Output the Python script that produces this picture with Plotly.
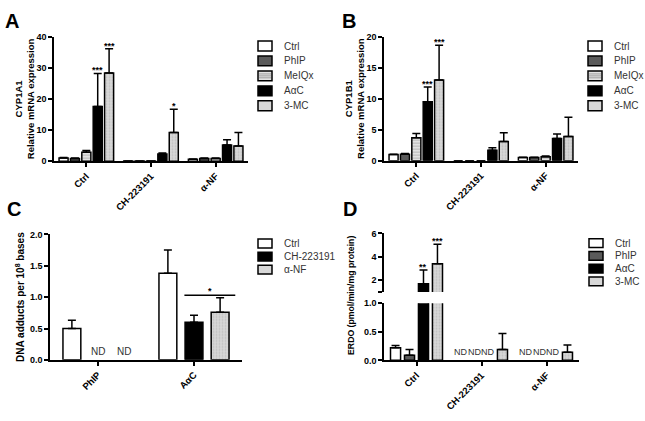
import plotly.graph_objects as go

W, H = 645, 421
FONT = "Liberation Sans, Arial, sans-serif"

# panels A and B: relative mRNA expression (rows = treatment, cols = inhibitor group)
cell_groups = ["Ctrl", "CH-223191", "α-NF"]
mrna_series = ["Ctrl", "PhIP", "MeIQx", "AαC", "3-MC"]

cyp1a1_mean = [[1.0, 0.1, 0.6], [0.9, 0.1, 0.9], [2.9, 0.1, 0.9], [17.6, 2.3, 5.2], [28.3, 9.2, 4.9]]
cyp1a1_err = [[0.2, 0.0, 0.1], [0.1, 0.0, 0.1], [0.5, 0.0, 0.1], [10.6, 0.3, 1.7], [7.8, 7.5, 4.3]]
cyp1a1_sig = [["", "", ""], ["", "", ""], ["", "", ""], ["***", "", ""], ["***", "*", ""]]

cyp1b1_mean = [[1.0, 0.0, 0.5], [1.05, 0.0, 0.5], [3.7, 0.0, 0.65], [9.5, 1.7, 3.6], [13.0, 3.1, 3.9]]
cyp1b1_err = [[0.05, 0.0, 0.05], [0.1, 0.0, 0.05], [0.7, 0.0, 0.1], [2.4, 0.4, 0.7], [5.6, 1.4, 3.1]]
cyp1b1_sig = [["", "", ""], ["", "", ""], ["", "", ""], ["***", "", ""], ["***", "", ""]]

# panel C: DNA adducts (None = not detected)
adduct_groups = ["PhIP", "AαC"]
adduct_series = ["Ctrl", "CH-223191", "α-NF"]
adduct_mean = [[0.5, 1.38], [None, 0.6], [None, 0.76]]
adduct_err = [[0.13, 0.37], [0.0, 0.11], [0.0, 0.23]]

# panel D: ERDO activity (None = not detected)
erdo_series = ["Ctrl", "PhIP", "AαC", "3-MC"]
erdo_mean = [[0.22, None, None], [0.09, None, None], [1.7, None, None], [3.42, 0.19, 0.14]]
erdo_err = [[0.04, 0.0, 0.0], [0.1, 0.0, 0.0], [1.17, 0.0, 0.0], [1.66, 0.28, 0.13]]
erdo_sig = [["", "", ""], ["", "", ""], ["**", "", ""], ["***", "", ""]]

LIGHT = "#d8d8d8"
STYLE = {
    "Ctrl": dict(color="white"),
    "PhIP": dict(color="#5a5a5a"),
    "MeIQx": dict(color="#e2e2e2", pattern=dict(shape="-", fgcolor="#8c8c8c", bgcolor="#e2e2e2", size=3, solidity=0.35)),
    "AαC": dict(color="black"),
    "3-MC": dict(color=LIGHT, pattern=dict(shape=".", fgcolor="#a8a8a8", bgcolor=LIGHT, size=3, solidity=0.3)),
    "CH-223191": dict(color="black"),
    "α-NF": dict(color=LIGHT, pattern=dict(shape=".", fgcolor="#a8a8a8", bgcolor=LIGHT, size=3, solidity=0.3)),
}

fig = go.Figure()


def offsets(n, slot):
    return [(i - (n - 1) / 2) * slot for i in range(n)]


def add_bars(xa, ya, series, mean, err, slot, bw):
    offs = offsets(len(series), slot)
    for i, name in enumerate(series):
        st = STYLE[name]
        marker = dict(color=st["color"], line=dict(color="black", width=1.5))
        if "pattern" in st:
            marker["pattern"] = st["pattern"]
        fig.add_trace(go.Bar(
            x=list(range(len(mean[i]))), y=mean[i], xaxis=xa, yaxis=ya,
            offset=offs[i] - bw / 2, width=bw, marker=marker, name=name,
            error_y=dict(type="data", array=err[i], arrayminus=[0] * len(err[i]),
                         symmetric=False, color="black", thickness=1.5, width=4),
            showlegend=False))
    return offs


def add_stars(xa, ya, offs, mean, err, sig, ya_hi=None, cut=None):
    for i, row in enumerate(sig):
        for j, s in enumerate(row):
            if not s:
                continue
            top = mean[i][j] + err[i][j]
            yref = ya_hi if (cut is not None and top > cut) else ya
            fig.add_annotation(x=j + offs[i], y=top, xref=xa, yref=yref, text="<b>%s</b>" % s,
                               showarrow=False, xanchor="center", yanchor="bottom", yshift=-4,
                               font=dict(size=9, color="black"))


def add_nd(xa, ya, offs, mean, size):
    for i, row in enumerate(mean):
        for j, v in enumerate(row):
            if v is None:
                fig.add_annotation(x=j + offs[i], y=0, xref=xa, yref=ya, text="ND",
                                   showarrow=False, xanchor="center", yanchor="bottom", yshift=1,
                                   font=dict(size=size, color="#333"))


def add_legend(x0, yc0, step, names, bh=10):
    for k, name in enumerate(names):
        yc = yc0 + k * step
        st = STYLE[name]
        fig.add_shape(type="rect", xref="paper", yref="paper",
                      x0=x0 / W, x1=(x0 + 14) / W, y0=1 - (yc + bh / 2) / H, y1=1 - (yc - bh / 2) / H,
                      fillcolor=st["color"], line=dict(color="black", width=1.5))
        if name == "MeIQx":
            for dy in (-2, 0, 2):
                fig.add_shape(type="line", xref="paper", yref="paper",
                              x0=(x0 + 1) / W, x1=(x0 + 13) / W, y0=1 - (yc + dy) / H, y1=1 - (yc + dy) / H,
                              line=dict(color="#8c8c8c", width=0.8))
        fig.add_annotation(x=(x0 + 24) / W, y=1 - yc / H, xref="paper", yref="paper", text=name,
                           showarrow=False, xanchor="left", yanchor="middle",
                           font=dict(size=10, color="#333"))


# A
offs = add_bars("x", "y", mrna_series, cyp1a1_mean, cyp1a1_err, 0.176, 0.14)
add_stars("x", "y", offs, cyp1a1_mean, cyp1a1_err, cyp1a1_sig)
# B
offs = add_bars("x2", "y2", mrna_series, cyp1b1_mean, cyp1b1_err, 0.176, 0.14)
add_stars("x2", "y2", offs, cyp1b1_mean, cyp1b1_err, cyp1b1_sig)
# C
offs = add_bars("x3", "y3", adduct_series, adduct_mean, adduct_err, 0.272, 0.186)
add_nd("x3", "y3", offs, adduct_mean, 10)
fig.add_shape(type="line", xref="x3", yref="y3", x0=0.9, x1=1.43, y0=1.03, y1=1.03,
              line=dict(color="black", width=1.5))
fig.add_annotation(x=1.165, y=1.03, xref="x3", yref="y3", text="<b>*</b>", showarrow=False,
                   xanchor="center", yanchor="bottom", yshift=-3, font=dict(size=9, color="black"))
# D (broken axis: lower y4, upper y5)
offs = add_bars("x4", "y4", erdo_series, erdo_mean, erdo_err, 0.215, 0.155)
add_bars("x4", "y5", erdo_series, erdo_mean, erdo_err, 0.215, 0.155)
add_stars("x4", "y4", offs, erdo_mean, erdo_err, erdo_sig, ya_hi="y5", cut=1.0)
add_nd("x4", "y4", offs, erdo_mean, 9)

add_legend(258, 42, 15.3, mrna_series)
add_legend(588, 42, 15.3, mrna_series)
add_legend(258, 244.3, 13.4, adduct_series, bh=9)
add_legend(589, 244, 13, erdo_series, bh=9)

for letter, px, py in [("A", 12, 16), ("B", 349, 16), ("C", 14, 209), ("D", 350, 209)]:
    fig.add_annotation(x=px / W, y=1 - py / H, xref="paper", yref="paper", text="<b>%s</b>" % letter,
                       showarrow=False, xanchor="center", yanchor="middle",
                       font=dict(size=20, color="black"))

fig.add_annotation(x=351 / W, y=1 - 298 / H, xref="paper", yref="paper", textangle=-90,
                   text="<b>ERDO (pmol/min/mg protein)</b>", showarrow=False,
                   xanchor="center", yanchor="middle", font=dict(size=8.7, color="black"))

axis_common = dict(showline=True, linecolor="black", linewidth=1.6, ticks="outside", ticklen=4,
                   tickwidth=1.5, tickcolor="black", showgrid=False, zeroline=False,
                   tickfont=dict(size=9, color="black", weight="bold"))
xcommon = dict(axis_common, tickangle=-45, range=[-0.5, 2.5], tickvals=[0, 1, 2], ticktext=cell_groups,
               tickfont=dict(size=9.5, color="black", weight="bold"))
ytitle = dict(font=dict(size=9.5, color="black", weight="bold"), standoff=0)

fig.update_layout(
    width=W, height=H, margin=dict(l=0, r=0, t=0, b=0),
    paper_bgcolor="white", plot_bgcolor="white", showlegend=False,
    barmode="overlay", font=dict(family=FONT, color="black"),
    xaxis=dict(xcommon, domain=[54 / W, 248 / W], anchor="y"),
    yaxis=dict(axis_common, domain=[1 - 160 / H, 1 - 32.4 / H], range=[0, 40], dtick=10, anchor="x",
               title=dict(ytitle, text="CYP1A1<br>Relative mRNA expression")),
    xaxis2=dict(xcommon, domain=[384 / W, 578 / W], anchor="y2"),
    yaxis2=dict(axis_common, domain=[1 - 159.5 / H, 1 - 32.4 / H], range=[0, 20], dtick=5, anchor="x2",
                title=dict(ytitle, text="CYP1B1<br>Relative mRNA expression")),
    xaxis3=dict(xcommon, range=[-0.5, 1.5], tickvals=[0, 1], ticktext=adduct_groups,
                domain=[50 / W, 242 / W], anchor="y3"),
    yaxis3=dict(axis_common, domain=[1 - 363.5 / H, 1 - 235 / H], range=[0, 2], dtick=0.5,
                tickformat=".1f", anchor="x3",
                title=dict(font=dict(size=10, color="black", weight="bold"), standoff=3,
                           text="DNA adducts per 10<sup>8</sup> bases")),
    xaxis4=dict(xcommon, domain=[384 / W, 579 / W], anchor="y4"),
    yaxis4=dict(axis_common, domain=[1 - 364 / H, 1 - 305.5 / H], range=[0, 1], tickvals=[0, 0.5, 1],
                ticktext=["0.0", "0.5", "1.0"], anchor="x4"),
    yaxis5=dict(axis_common, domain=[1 - 294 / H, 1 - 234 / H], range=[1, 6], tickvals=[1, 2, 4, 6],
                ticktext=["", "2", "4", "6"], anchor="x4"),
)

fig.write_html("out.html", config={"displayModeBar": False},
               post_script="document.body.style.margin='0';document.body.style.overflow='hidden';")
